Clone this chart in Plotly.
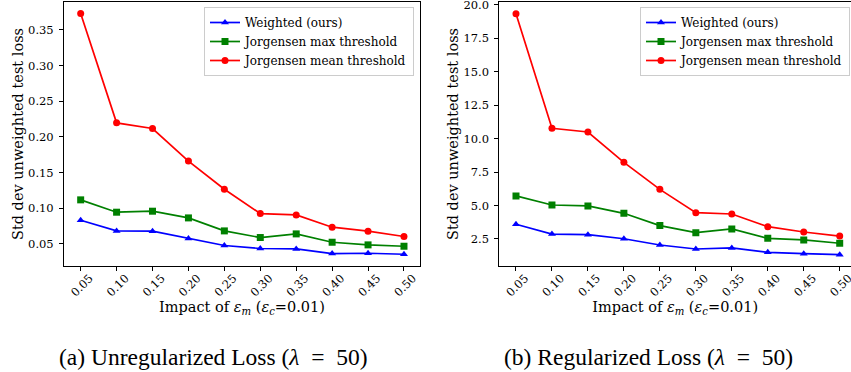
import plotly.graph_objects as go

# Impact of eps_m values (x axis)
eps_m = [0.05, 0.10, 0.15, 0.20, 0.25, 0.30, 0.35, 0.40, 0.45, 0.50]
x_ticks = ["0.05", "0.10", "0.15", "0.20", "0.25", "0.30", "0.35", "0.40", "0.45", "0.50"]

series_names = ["Weighted (ours)", "Jorgensen max threshold", "Jorgensen mean threshold"]

# (a) Unregularized loss: std dev of unweighted test loss
unreg_weighted = [0.0832, 0.0682, 0.0678, 0.0575, 0.0477, 0.0435, 0.0430, 0.0364, 0.0369, 0.0355]
unreg_max = [0.1117, 0.0944, 0.0958, 0.0864, 0.0682, 0.0589, 0.0640, 0.0523, 0.0486, 0.0467]
unreg_mean = [0.373, 0.2196, 0.2117, 0.166, 0.1266, 0.0925, 0.0906, 0.0734, 0.0678, 0.0603]

# (b) Regularized loss
reg_weighted = [3.60, 2.87, 2.82, 2.52, 2.05, 1.75, 1.83, 1.50, 1.40, 1.33]
reg_max = [5.72, 5.04, 4.97, 4.42, 3.50, 2.97, 3.25, 2.55, 2.43, 2.18]
reg_mean = [19.35, 10.78, 10.50, 8.23, 6.21, 4.47, 4.37, 3.42, 3.02, 2.72]

# sub-figure captions (math-style spacing around "=")
captions = [
    "(a) Unregularized Loss (<i>λ</i>\u2002=\u200250)",
    "(b) Regularized Loss (<i>λ</i>\u2002=\u200250)",
]

colors = ["blue", "green", "red"]
symbols = ["triangle-up", "square", "circle"]

W, H = 851, 372
SERIF = "'DejaVu Serif', serif"
TIMES = "'Liberation Serif', 'Times New Roman', serif"

fig = go.Figure()

panels = [
    ([unreg_weighted, unreg_max, unreg_mean], "x", "y", "legend"),
    ([reg_weighted, reg_max, reg_mean], "x2", "y2", "legend2"),
]
for values, xa, ya, lg in panels:
    for name, vals, col, sym in zip(series_names, values, colors, symbols):
        fig.add_trace(go.Scatter(
            x=eps_m, y=vals, name=name, mode="lines+markers",
            line=dict(color=col, width=1.7),
            marker=dict(symbol=sym, size=7, color=col),
            xaxis=xa, yaxis=ya, legend=lg,
        ))

def px_x(p):
    return p / W

def px_y(p):
    return 1 - p / H

axis_common = dict(
    showgrid=False, zeroline=False, showline=True, linecolor="black", linewidth=1,
    mirror=True, ticks="outside", ticklen=4, tickcolor="black", tickwidth=1,
    tickfont=dict(family=SERIF, size=11.5, color="black"),
    ticklabeloverflow="allow", automargin=False,
)
x_extra = dict(tickvals=eps_m, ticktext=x_ticks, tickangle=-45, ticklabelshift=9,
               ticklabelstandoff=-4)

xtitle = "Impact of <i>ε<sub>m</sub></i> (<i>ε<sub>c</sub></i>=0.01)"
ytitle = "Std dev unweighted test loss"
title_font = dict(family=SERIF, size=14.5, color="black")

legend_common = dict(
    bgcolor="rgba(255,255,255,0.9)", bordercolor="#cccccc", borderwidth=1,
    font=dict(family=SERIF, size=12, color="black"),
    xanchor="right", yanchor="top", tracegroupgap=0, itemwidth=30,
)

fig.update_layout(
    width=W, height=H,
    margin=dict(l=0, r=0, t=0, b=0),
    paper_bgcolor="white", plot_bgcolor="white",
    showlegend=True,
    xaxis=dict(domain=[px_x(64), px_x(420)], range=[0.0268, 0.5223], anchor="y",
               title=dict(text=xtitle, font=title_font, standoff=2),
               **x_extra, **axis_common),
    yaxis=dict(domain=[px_y(266), px_y(2)], range=[0.019, 0.389], anchor="x",
               tickvals=[0.05, 0.10, 0.15, 0.20, 0.25, 0.30, 0.35], tickformat=".2f",
               ticklabelstandoff=3,
               title=dict(text=ytitle, font=title_font, standoff=1),
               **axis_common),
    xaxis2=dict(domain=[px_x(499.3), 1.0], range=[0.0268, 0.5157], anchor="y2",
                title=dict(text=xtitle, font=title_font, standoff=2),
                **x_extra, **axis_common),
    yaxis2=dict(domain=[px_y(266), px_y(2)], range=[0.48, 20.22], anchor="x2",
                tickvals=[2.5, 5.0, 7.5, 10.0, 12.5, 15.0, 17.5, 20.0], tickformat=".1f",
                ticklabelstandoff=3,
                title=dict(text=ytitle, font=title_font, standoff=1),
                **axis_common),
    legend=dict(x=px_x(414), y=px_y(7), **legend_common),
    legend2=dict(x=px_x(850), y=px_y(7), **legend_common),
)

for text, cx in zip(captions, [213, 648]):
    fig.add_annotation(
        text=text, x=px_x(cx), y=px_y(357), xref="paper", yref="paper",
        xanchor="center", yanchor="middle", showarrow=False,
        font=dict(family=TIMES, size=23.5, color="black"),
    )

fig.write_html("out.html")
